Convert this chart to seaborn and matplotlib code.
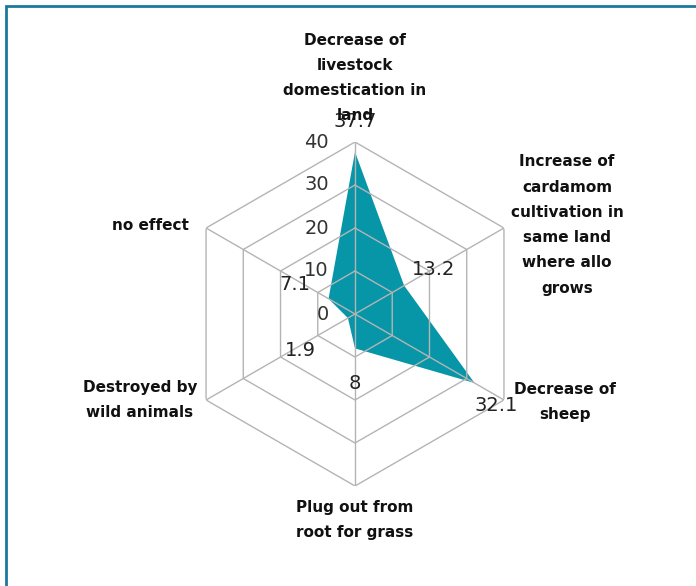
import numpy as np
import matplotlib
matplotlib.use("Agg")
import matplotlib.pyplot as plt
import matplotlib.patches as patches
import seaborn as sns

sns.set_style("white")

# data
categories = [
    "Decrease of\nlivestock\ndomestication in\nland",
    "Increase of\ncardamom\ncultivation in\nsame land\nwhere allo\ngrows",
    "Decrease of\nsheep",
    "Plug out from\nroot for grass",
    "Destroyed by\nwild animals",
    "no effect",
]
values = [37.7, 13.2, 32.1, 8, 1.9, 7.1]
ring_ticks = [0, 10, 20, 30, 40]

# label offsets in pixels (data labels / category labels)
value_offsets = [(0, 30), (29, 16), (22, -22), (0, -35), (-48, -32), (-34, 14)]
cat_offsets = [(0, 64), (63, 3), (61, -2), (0, -34), (-66, 0), (-56, 3)]

fill_color = "#0796a8"
grid_color = "#b4b4b4"
narrow = ["Liberation Sans Narrow", "DejaVu Sans"]

n = len(categories)
angles = np.linspace(0, 2 * np.pi, n, endpoint=False)

fig = plt.figure(figsize=(6.96, 5.86), dpi=100)

# frame around figure (left and top edges visible)
frame = patches.Rectangle((6 / 696, -0.2), 1.2, 1.2 - 6 / 586,
                          transform=fig.transFigure, fill=False,
                          edgecolor="#1b7a9c", linewidth=2)
fig.patches.append(frame)

cx, cy, rad = 355, 314, 172
ax = fig.add_axes([(cx - rad) / 696, (586 - cy - rad) / 586, 2 * rad / 696, 2 * rad / 586],
                  projection="polar")
ax.set_theta_offset(np.pi / 2)
ax.set_theta_direction(-1)
ax.set_ylim(0, 40)
ax.grid(False)
ax.spines["polar"].set_visible(False)
ax.set_xticks([])
ax.set_yticks([])
ax.patch.set_alpha(0)

# data polygon
closed_a = np.append(angles, angles[0])
closed_v = np.append(values, values[0])
ax.fill(closed_a, closed_v, color=fill_color, zorder=2, linewidth=0)

# hexagonal grid
for r in ring_ticks[1:]:
    ax.plot(closed_a, [r] * (n + 1), color=grid_color, lw=1, zorder=3)
for a in angles:
    ax.plot([a, a], [0, 40], color=grid_color, lw=1, zorder=3)

# ring tick labels
for r in ring_ticks:
    ax.annotate(str(r), xy=(0, r), xytext=(-26, 0), textcoords="offset pixels",
                ha="right", va="center", fontsize=14, color="#333333", zorder=5)

# data labels
for a, v, off in zip(angles, values, value_offsets):
    ax.annotate(f"{v:g}", xy=(a, v), xytext=off, textcoords="offset pixels",
                ha="center", va="center", fontsize=14, color="#222222", zorder=5)

# category labels
for a, c, off in zip(angles, categories, cat_offsets):
    ax.annotate(c, xy=(a, 40), xytext=off, textcoords="offset pixels",
                ha="center", va="center", fontsize=11, family=narrow,
                fontweight="bold", linespacing=1.85, color="#111111",
                annotation_clip=False, zorder=5)

fig.savefig("out.png", dpi=100)
